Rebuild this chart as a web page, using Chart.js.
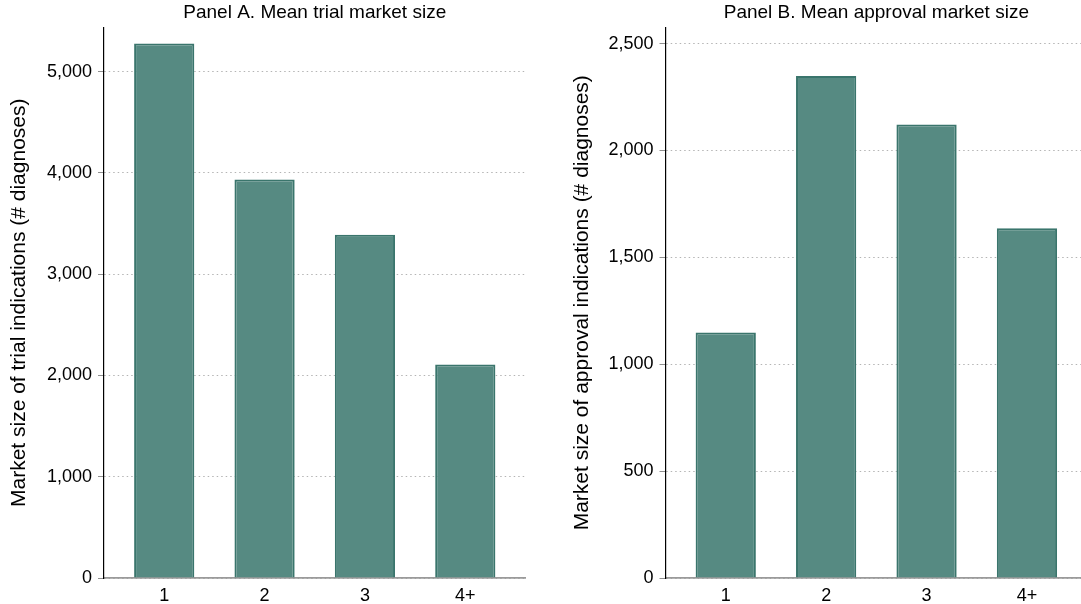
<!DOCTYPE html>
<html>
<head>
<meta charset="utf-8">
<script src="https://cdn.jsdelivr.net/npm/chart.js@4.4.1/dist/chart.umd.min.js"></script>
<style>
  html, body { margin: 0; padding: 0; background: #fff; overflow: hidden; width: 1081px; height: 604px; }
  .panel { position: absolute; top: 0; height: 604px; }
  #wrapA { left: 0; width: 540px; }
  #wrapB { left: 540px; width: 560px; }
</style>
</head>
<body>
<div class="panel" id="wrapA"><canvas id="panelA"></canvas></div>
<div class="panel" id="wrapB"><canvas id="panelB"></canvas></div>
<script>
// Number of indications per drug (x categories)
const categories = ['1', '2', '3', '4+'];

// Mean market size (# diagnoses) by number of indications
const trialMarketSize = [5278, 3935, 3388, 2109];
const approvalMarketSize = [1148, 2348, 2121, 1636];

// Y-axis tick values for each panel
const trialTicks = [0, 1000, 2000, 3000, 4000, 5000];
const approvalTicks = [0, 500, 1000, 1500, 2000, 2500];

const FONT = "'Liberation Sans', Arial, Helvetica, sans-serif";
const BAR_FILL = '#568a82';
const BAR_EDGE = '#3a756c';

Chart.defaults.font.family = FONT;
Chart.defaults.color = '#000';

function makePanel(canvasId, cfg) {
  const points = categories.map((c, i) => ({ x: i, y: cfg.values[i] }));
  return new Chart(document.getElementById(canvasId), {
    type: 'bar',
    data: {
      datasets: [{
        data: points,
        backgroundColor: BAR_FILL,
        borderColor: BAR_EDGE,
        borderWidth: 2,
        barPercentage: 0.6,
        categoryPercentage: 1
      }]
    },
    options: {
      responsive: true,
      maintainAspectRatio: false,
      animation: false,
      devicePixelRatio: 1,
      layout: { padding: { left: cfg.padLeft, right: cfg.padRight, top: 0, bottom: 0 } },
      plugins: {
        legend: { display: false },
        tooltip: { enabled: false },
        title: {
          display: true,
          text: cfg.title,
          fullSize: false,
          color: '#000',
          font: { size: 19, weight: 'normal', family: FONT },
          padding: { top: 1.5, bottom: 3.2 }
        }
      },
      scales: {
        x: {
          type: 'linear',
          offset: false,
          min: -0.6,
          max: 3.6,
          afterBuildTicks: s => { s.ticks = categories.map((c, i) => ({ value: i })); },
          afterFit: s => { s.height = 26; },
          grid: { display: false, drawTicks: false, offset: false },
          border: { display: true, color: '#9a9a9a', width: 1.8 },
          ticks: {
            padding: 7,
            color: '#000',
            font: { size: 18, family: FONT },
            callback: v => categories[v]
          }
        },
        y: {
          type: 'linear',
          min: 0,
          max: cfg.max,
          afterBuildTicks: s => { s.ticks = cfg.ticks.map(v => ({ value: v })); },
          afterFit: s => { s.width = cfg.axisWidth; },
          grid: {
            color: '#b4b4b4',
            lineWidth: 1,
            drawTicks: true,
            tickLength: 6,
            tickColor: '#8f8f8f',
            tickWidth: 1
          },
          border: { display: true, color: '#000', width: 1.2, dash: [1.5, 3] },
          ticks: {
            padding: 6,
            color: '#000',
            font: { size: 18, family: FONT },
            callback: v => v.toLocaleString('en-US')
          },
          title: {
            display: true,
            text: cfg.yTitle,
            color: '#000',
            font: { size: 21, family: FONT },
            padding: { top: 7, bottom: 0 }
          }
        }
      }
    }
  });
}

makePanel('panelA', {
  title: 'Panel A. Mean trial market size',
  yTitle: 'Market size of trial indications (# diagnoses)',
  values: trialMarketSize,
  ticks: trialTicks,
  max: 5435,
  padLeft: 0,
  padRight: 14.5,
  axisWidth: 104
});

makePanel('panelB', {
  title: 'Panel B. Mean approval market size',
  yTitle: 'Market size of approval indications (# diagnoses)',
  values: approvalMarketSize,
  ticks: approvalTicks,
  max: 2575,
  padLeft: 23,
  padRight: 12.8,
  axisWidth: 102.5
});
</script>
</body>
</html>
